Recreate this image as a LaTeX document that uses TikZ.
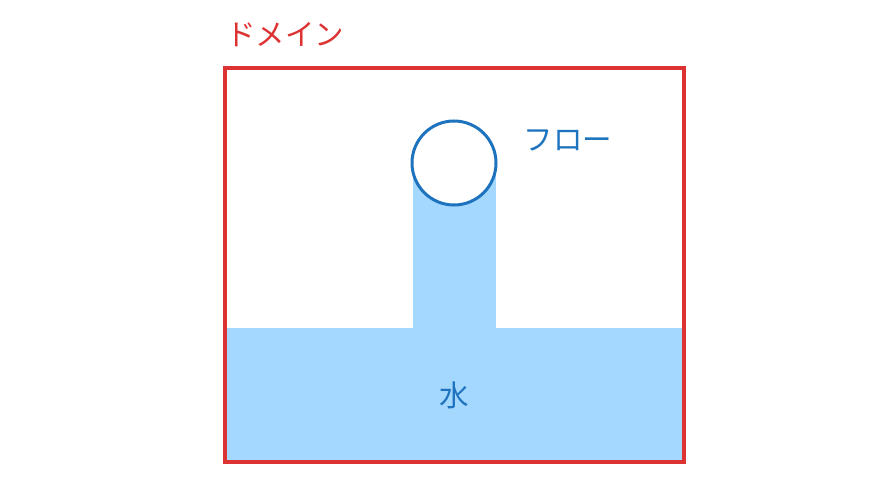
\documentclass[tikz,border=0pt]{standalone}
\usepackage{xcolor}
\usepackage{fontspec}
\usepackage{tikz}
\newfontfamily\jpfont{Noto Sans CJK JP}
\definecolor{domainred}{RGB}{220,50,50}
\definecolor{flowblue}{RGB}{30,115,190}
\definecolor{waterblue}{RGB}{165,216,255}
\tikzset{label text/.style={font=\jpfont\fontsize{29.5}{32}\selectfont, inner sep=0pt}}

\begin{document}
\begin{tikzpicture}[x=1pt,y=-1pt]
  \useasboundingbox (0,0) rectangle (893,492);
  \fill[waterblue] (225,328) rectangle (684,462);
  \fill[waterblue] (413,163) rectangle (496,328);
  \draw[flowblue,line width=3pt,fill=white] (454,163) circle[radius=42pt];
  \draw[domainred,line width=3.2pt] (225,68) rectangle (684,462);
  \node[label text,text=domainred] (domain) at (285,35) {ドメイン};
  \node[label text,text=flowblue] (flow) at (568,140) {フロー};
  \node[label text,text=flowblue] (water) at (454,395) {水};
\end{tikzpicture}
\end{document}
